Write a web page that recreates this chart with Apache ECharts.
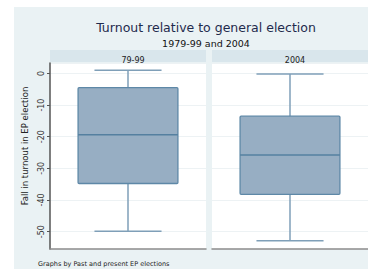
<!DOCTYPE html>
<html>
<head>
<meta charset="utf-8">
<script src="https://cdn.jsdelivr.net/npm/echarts@6/dist/echarts.min.js"></script>
<style>
  html, body { margin: 0; padding: 0; background: #fff; }
  #chart { width: 368px; height: 269px; }
</style>
</head>
<body>
<div id="chart"></div>
<script>
var panels = ['79-99', '2004'];
// [min, q1, median, q3, max]
var box7999 = [-49.9, -34.8, -19.4, -4.5, 1.0];
var box2004 = [-52.9, -38.2, -25.8, -13.5, -0.2];
var yTicks = [0, -10, -20, -30, -40, -50];

var myChart = echarts.init(document.getElementById('chart'), null, { renderer: 'svg' });

function renderBox(params, api) {
    var idx = api.value(0);
    var band = api.size([1, 0])[0];
    var boxW = band * 0.64;
    var capW = band * 0.43;
    var pMin = api.coord([idx, api.value(1)]);
    var pQ1 = api.coord([idx, api.value(2)]);
    var pMed = api.coord([idx, api.value(3)]);
    var pQ3 = api.coord([idx, api.value(4)]);
    var pMax = api.coord([idx, api.value(5)]);
    var cx = pMed[0];
    var wStyle = { stroke: '#7f9fb8', lineWidth: 1.5 };
    return {
        type: 'group',
        children: [
            { type: 'line', shape: { x1: cx, y1: pMax[1], x2: cx, y2: pQ3[1] }, style: wStyle },
            { type: 'line', shape: { x1: cx, y1: pQ1[1], x2: cx, y2: pMin[1] }, style: wStyle },
            { type: 'line', shape: { x1: cx - capW / 2, y1: pMax[1], x2: cx + capW / 2, y2: pMax[1] }, style: wStyle },
            { type: 'line', shape: { x1: cx - capW / 2, y1: pMin[1], x2: cx + capW / 2, y2: pMin[1] }, style: wStyle },
            { type: 'rect', shape: { x: cx - boxW / 2, y: pQ3[1], width: boxW, height: pQ1[1] - pQ3[1], r: 1 },
              style: { fill: '#97aec3', stroke: '#5e88a7', lineWidth: 1.3 } },
            { type: 'line', shape: { x1: cx - boxW / 2, y1: pMed[1], x2: cx + boxW / 2, y2: pMed[1] },
              style: { stroke: '#5580a0', lineWidth: 1.5 } }
        ]
    };
}

function yAxisOf(gi, showLabels) {
    return {
        type: 'value', gridIndex: gi, min: -55.5, max: 3.3,
        name: showLabels ? 'Fall in turnout in EP election' : '',
        nameLocation: 'middle', nameGap: 21,
        nameTextStyle: { fontFamily: 'DejaVu Sans', fontSize: 8.5, color: '#222', padding: [0, 0, 0, 20] },
        axisLine: { show: showLabels, lineStyle: { color: '#555', width: 1.5 } },
        axisTick: { show: showLabels, length: 3, lineStyle: { color: '#555' } },
        axisLabel: {
            show: showLabels, rotate: 90, fontSize: 8, color: '#333', margin: 5,
            fontFamily: 'DejaVu Sans', showMinLabel: false, showMaxLabel: false,
            formatter: function (v) { return yTicks.indexOf(v) >= 0 ? String(v) : ''; }
        },
        splitLine: { show: true, lineStyle: { color: '#edf2f4', width: 1.2 } }
    };
}

function xAxisOf(gi) {
    return {
        type: 'category', gridIndex: gi, data: [panels[gi]],
        axisLine: { show: true, onZero: false, lineStyle: { color: '#8c8c8c', width: 1.5 } },
        axisTick: { show: false }, axisLabel: { show: false }, splitLine: { show: false }
    };
}

var option = {
    backgroundColor: '#fff',
    animation: false,
    graphic: [
        { type: 'rect', z: -10, shape: { x: 14, y: 7, width: 354, height: 262 }, style: { fill: '#eaf2f4' } },
        { type: 'rect', z: -5, shape: { x: 50, y: 50, width: 156, height: 12 }, style: { fill: '#d9e6ec' } },
        { type: 'rect', z: -5, shape: { x: 212, y: 50, width: 156, height: 12 }, style: { fill: '#d9e6ec' } }
    ],
    title: [
        { text: 'Turnout relative to general election', left: 201, top: 16, textAlign: 'center',
          textStyle: { fontFamily: 'DejaVu Sans', fontSize: 12.5, fontWeight: 'normal', color: '#1f2b4d' } },
        { text: '1979-99 and 2004', left: 201, top: 33, textAlign: 'center',
          textStyle: { fontFamily: 'DejaVu Sans', fontSize: 9.5, fontWeight: 'normal', color: '#111' } },
        { text: panels[0], left: 128, top: 51, textAlign: 'center',
          textStyle: { fontFamily: 'DejaVu Sans', fontSize: 8, fontWeight: 'normal', color: '#222' } },
        { text: panels[1], left: 290, top: 51, textAlign: 'center',
          textStyle: { fontFamily: 'DejaVu Sans', fontSize: 8, fontWeight: 'normal', color: '#222' } },
        { text: 'Graphs by Past and present EP elections', left: 33, top: 255,
          textStyle: { fontFamily: 'DejaVu Sans', fontSize: 6.5, fontWeight: 'normal', color: '#222' } }
    ],
    grid: [
        { left: 50, top: 63, width: 156, height: 186, show: true, backgroundColor: '#fff', borderWidth: 0 },
        { left: 212, top: 63, width: 156, height: 186, show: true, backgroundColor: '#fff', borderWidth: 0 }
    ],
    xAxis: [xAxisOf(0), xAxisOf(1)],
    yAxis: [yAxisOf(0, true), yAxisOf(1, false)],
    series: [
        { type: 'custom', xAxisIndex: 0, yAxisIndex: 0, renderItem: renderBox,
          encode: { x: 0, y: [1, 2, 3, 4, 5] }, data: [[0].concat(box7999)] },
        { type: 'custom', xAxisIndex: 1, yAxisIndex: 1, renderItem: renderBox,
          encode: { x: 0, y: [1, 2, 3, 4, 5] }, data: [[0].concat(box2004)] }
    ]
};
myChart.setOption(option);
</script>
</body>
</html>
